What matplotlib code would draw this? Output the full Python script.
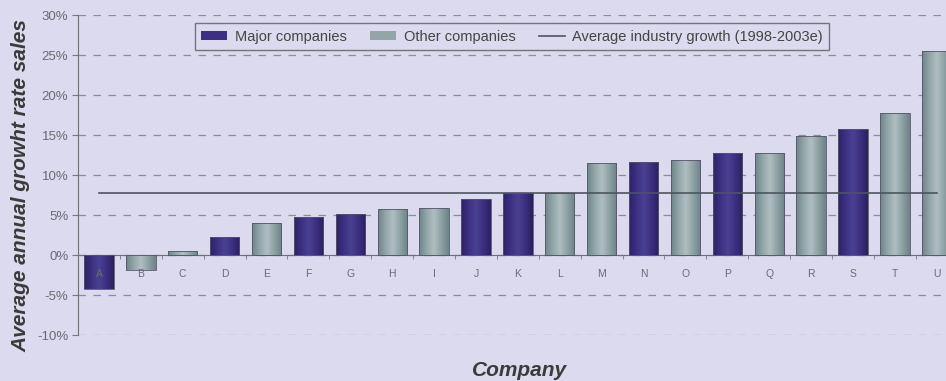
import numpy as np
import matplotlib.pyplot as plt
from matplotlib.colors import LinearSegmentedColormap
from matplotlib.patches import Patch
from matplotlib.lines import Line2D
from matplotlib.ticker import FuncFormatter

plt.rcParams['font.family'] = ['Liberation Sans', 'DejaVu Sans']

companies = list("ABCDEFGHIJKLMNOPQRSTU")
growth = [-4.3, -1.9, 0.5, 2.2, 4.0, 4.7, 5.1, 5.7, 5.9, 7.0, 7.7,
          7.8, 11.5, 11.6, 11.9, 12.8, 12.8, 14.9, 15.7, 17.8, 25.5]
is_major = [1, 0, 0, 1, 0, 1, 1, 0, 0, 1, 1,
            0, 0, 1, 0, 1, 0, 0, 1, 0, 0]
avg_growth = 7.7  # average industry growth 1998-2003e

bg = '#dcdaee'
major_cmap = LinearSegmentedColormap.from_list(
    'major', ['#2e2266', '#3d3082', '#4a4192', '#3c2f80', '#2c2060'])
other_cmap = LinearSegmentedColormap.from_list(
    'other', ['#6f8589', '#92a5a9', '#b0bec1', '#8ea1a5', '#6d8387'])

fig = plt.figure(figsize=(9.46, 3.81), dpi=100, facecolor=bg)
ax = fig.add_axes([78 / 946, 1 - 335 / 381, 1 - 78 / 946, 320 / 381])
ax.set_facecolor(bg)

x = np.arange(len(companies))
bars = ax.bar(x, growth, width=0.7, color='none', edgecolor='#55556a',
              linewidth=0.6, zorder=3)

# horizontal shading inside each bar
grad = np.linspace(0, 1, 64).reshape(1, -1)
for b, m in zip(bars, is_major):
    x0, y0 = b.get_x(), b.get_y()
    w, h = b.get_width(), b.get_height()
    im = ax.imshow(grad, cmap=major_cmap if m else other_cmap, aspect='auto',
                   extent=[x0, x0 + w, y0, y0 + h], zorder=2.9,
                   interpolation='bicubic')
    im.set_clip_path(b)

ax.plot([x[0], x[-1]], [avg_growth, avg_growth], color='#4d5560', lw=1.2, zorder=4)

ax.set_xlim(-0.5, 20.22)
ax.set_ylim(-10, 30)
ax.set_yticks(np.arange(-10, 31, 5))
ax.yaxis.set_major_formatter(FuncFormatter(lambda v, p: f'{v:.0f}%'))
ax.grid(axis='y', linestyle=(0, (6, 6)), color='#8c8c9c', lw=0.9)
ax.yaxis.set_zorder(0.5)
ax.xaxis.set_zorder(4.5)  # company letters sit on top of the bars

ax.set_xticks(x)
ax.set_xticklabels(companies)
ax.set_xticks(np.arange(-0.5, 20.5, 1), minor=True)
ax.tick_params(axis='x', which='major', length=0, pad=10, labelsize=7.5,
               labelcolor='#6a6a74')
ax.tick_params(axis='x', which='minor', length=3, color='#777780', direction='out')
ax.tick_params(axis='y', length=4, color='#777780', labelsize=9.5,
               labelcolor='#6a6a74', pad=3)

ax.spines['bottom'].set_position(('data', 0))
ax.spines['bottom'].set_color('#6f6f78')
ax.spines['left'].set_color('#6f6f78')
ax.spines['top'].set_visible(False)
ax.spines['right'].set_visible(False)

label_style = dict(fontsize=15, fontweight='bold', fontstyle='italic',
                   color='#3a3a3a', ha='center', va='center')
fig.text(21 / 946, 1 - 185 / 381, 'Average annual growht rate sales',
         rotation=90, **label_style)
fig.text(520 / 946, 1 - 371 / 381, 'Company', **label_style)

handles = [Patch(facecolor='#3d3082', edgecolor='none'),
           Patch(facecolor='#92a5a9', edgecolor='none'),
           Line2D([], [], color='#4d5560', lw=1.2)]
labels = ['Major companies', 'Other companies', 'Average industry growth (1998-2003e)']
leg = ax.legend(handles, labels, ncol=3, loc='upper center',
                bbox_to_anchor=(0.5, 0.975), borderaxespad=0, frameon=True,
                fancybox=False, fontsize=10.5, handlelength=1.8, handleheight=0.5,
                handletextpad=0.5, columnspacing=1.6, borderpad=0.45,
                labelcolor='#444444')
leg.get_frame().set_facecolor(bg)
leg.get_frame().set_edgecolor('#5a5a60')
leg.get_frame().set_linewidth(1.0)
leg.set_zorder(5)

fig.savefig('out.png', dpi=100, facecolor=bg)
